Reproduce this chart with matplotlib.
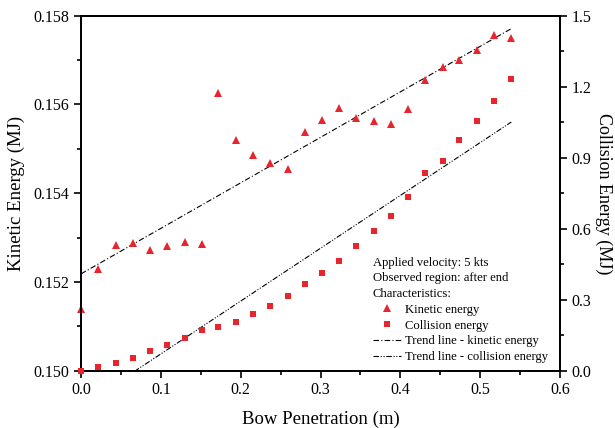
import matplotlib
matplotlib.use("Agg")
import matplotlib.pyplot as plt
from matplotlib.lines import Line2D
import numpy as np

plt.rcParams['font.family'] = ['Liberation Serif', 'DejaVu Serif']
plt.rcParams['mathtext.fontset'] = 'stix'

# bow penetration (m)
penetration = [0.000, 0.0216, 0.0436, 0.0650, 0.0866, 0.1080, 0.1300, 0.1516,
               0.1720, 0.1940, 0.2160, 0.2370, 0.2590, 0.2800, 0.3020, 0.3230,
               0.3450, 0.3670, 0.3880, 0.4090, 0.4310, 0.4530, 0.4740, 0.4960,
               0.5170, 0.5390]
# kinetic energy (MJ), left axis
kinetic = [0.15139, 0.15229, 0.15284, 0.15287, 0.15271, 0.15282, 0.15290, 0.15286,
           0.15625, 0.15519, 0.15486, 0.15468, 0.15455, 0.15538, 0.15564, 0.15591,
           0.15570, 0.15562, 0.15556, 0.15590, 0.15655, 0.15685, 0.15700, 0.15723,
           0.15756, 0.15749]
# collision energy (MJ), right axis
collision = [0.000, 0.014, 0.033, 0.055, 0.082, 0.107, 0.138, 0.171,
             0.185, 0.207, 0.238, 0.275, 0.316, 0.365, 0.412, 0.464,
             0.527, 0.589, 0.653, 0.733, 0.835, 0.885, 0.974, 1.056,
             1.138, 1.231]

red = '#e8242c'
dash_ke = (0, (5, 2, 1, 2))
dash_ce = (0, (5, 1.5, 1, 1.5, 1, 1.5))

x = np.array(penetration)
xfit = np.array([x[0], x[-1]])
pk = np.polyfit(x, kinetic, 1)
pc = np.polyfit(x, collision, 1)

fig = plt.figure(figsize=(6.15, 4.28), dpi=100)
ax1 = fig.add_axes([0.1317, 0.1339, 0.7789, 0.8294])
ax2 = ax1.twinx()

ax1.plot(x, kinetic, '^', color=red, ms=5.5, mew=0, clip_on=False, zorder=3)
ax1.plot(xfit, np.polyval(pk, xfit), color='black', lw=0.8, linestyle=dash_ke)
ax2.plot(x, collision, 's', color=red, ms=4.5, mew=0, clip_on=False, zorder=3)
ax2.plot(xfit, np.polyval(pc, xfit), color='black', lw=0.8, linestyle=dash_ce)

ax1.set_xlim(0, 0.6)
ax1.set_ylim(0.150, 0.158)
ax2.set_ylim(0, 1.5)
ax1.set_xticks(np.arange(0, 0.61, 0.1))
ax1.set_xticks(np.arange(0.05, 0.6, 0.1), minor=True)
ax1.set_yticks(np.arange(0.150, 0.1581, 0.002))
ax1.set_yticks(np.arange(0.151, 0.158, 0.002), minor=True)
ax2.set_yticks(np.arange(0, 1.51, 0.3))
ax2.set_yticks(np.arange(0.15, 1.5, 0.3), minor=True)
ax1.set_xticklabels(['0.0', '0.1', '0.2', '0.3', '0.4', '0.5', '0.6'])
ax1.set_yticklabels(['0.150', '0.152', '0.154', '0.156', '0.158'])
ax2.set_yticklabels(['0.0', '0.3', '0.6', '0.9', '1.2', '1.5'])

for a in (ax1, ax2):
    for s in a.spines.values():
        s.set_linewidth(1.3)
ax1.tick_params(which='major', direction='out', length=5, width=1.2, labelsize=11.5)
ax1.tick_params(which='minor', direction='out', length=3, width=1.2)
ax2.tick_params(which='major', direction='out', length=5, width=1.2, labelsize=11.5)
ax2.tick_params(which='minor', direction='out', length=3, width=1.2)

ax1.set_xlabel('Bow Penetration (m)', fontsize=13.5, labelpad=9)
ax1.set_ylabel('Kinetic Energy (MJ)', fontsize=13.5, labelpad=6)
ax2.set_ylabel('Collision Energy (MJ)', fontsize=13, rotation=270,
               va='center', ha='center')
ax2.yaxis.set_label_coords(1.092, 0.5)

handles = [
    Line2D([], [], marker='^', color=red, ls='none', ms=5.5, mew=0),
    Line2D([], [], marker='s', color=red, ls='none', ms=4.5, mew=0),
    Line2D([], [], color='black', lw=0.8, linestyle=dash_ke),
    Line2D([], [], color='black', lw=0.8, linestyle=dash_ce),
]
labels = ['Kinetic energy', 'Collision energy',
          'Trend line - kinetic energy', 'Trend line - collision energy']
leg = ax2.legend(handles, labels, loc='lower left', bbox_to_anchor=(0.591, -0.004),
                 frameon=False, fontsize=9.1, handlelength=2.2, handletextpad=0.35,
                 labelspacing=0.3, borderpad=0.2,
                 title='Applied velocity: 5 kts\nObserved region: after end\nCharacteristics:',
                 title_fontsize=9.1, alignment='left')
leg._legend_box.sep = 3
leg.get_title().set_linespacing(1.4)

fig.savefig('out.png', dpi=100)
